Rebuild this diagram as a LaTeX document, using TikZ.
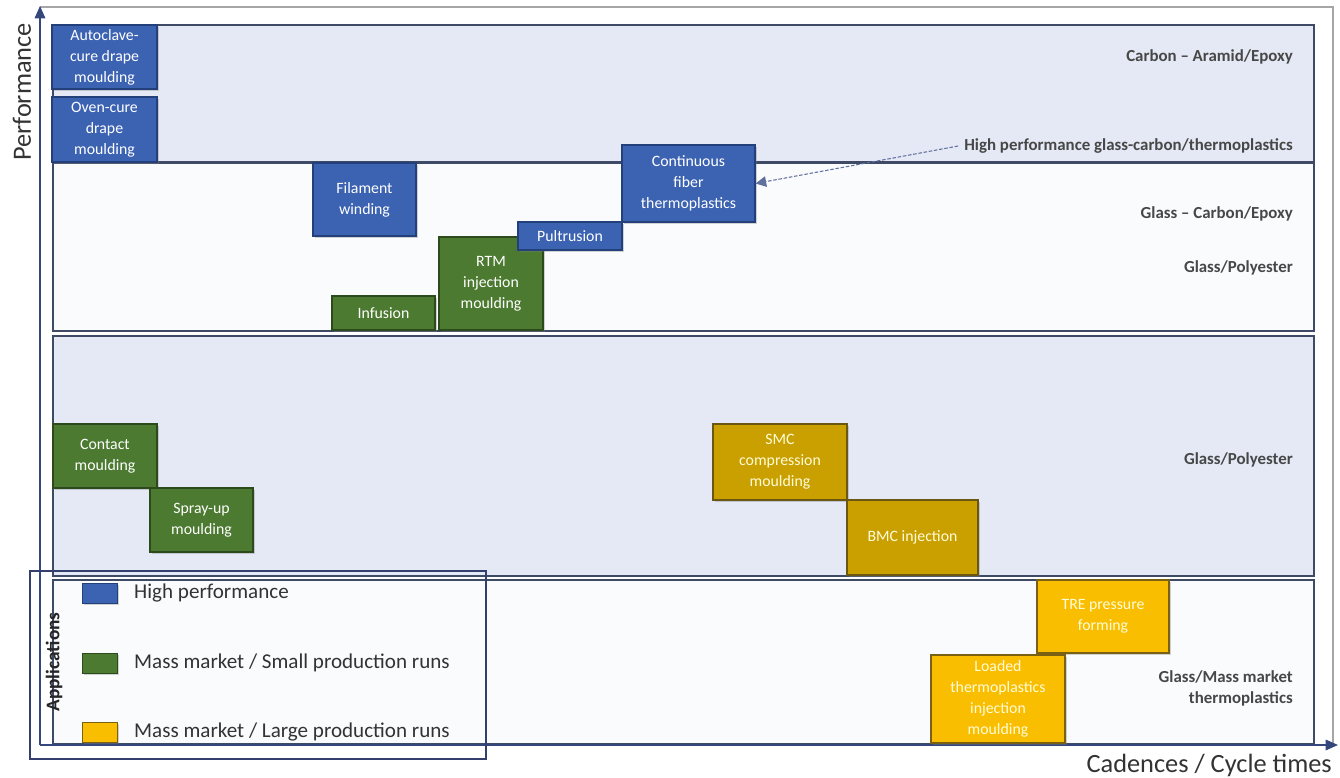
\documentclass[tikz,border=0pt]{standalone}
\usepackage{fontspec}
\setmainfont{Carlito}
\usetikzlibrary{fit,shadows,arrows.meta}
\definecolor{bandfill}{HTML}{E4E9F5}
\definecolor{bandwhite}{HTML}{FAFBFD}
\definecolor{bandline}{HTML}{3E4A66}
\definecolor{hpblue}{HTML}{3C62B2}
\definecolor{hpblueD}{HTML}{24407A}
\definecolor{mgreen}{HTML}{4B7A30}
\definecolor{mgreenD}{HTML}{2D4A1D}
\definecolor{dgold}{HTML}{C9A000}
\definecolor{dgoldD}{HTML}{6A5712}
\definecolor{lgold}{HTML}{FABE00}
\definecolor{lgoldD}{HTML}{7A6012}
\definecolor{axisblue}{HTML}{4A66B0}
\definecolor{legline}{HTML}{33406E}
\tikzset{
  bandA/.style={draw=bandline, line width=0.9pt, fill=bandfill, inner sep=0pt},
  bandB/.style={draw=bandline, line width=0.9pt, fill=bandwhite, inner sep=0pt},
  procbox/.style={inner sep=0pt, line width=0.7pt,
    drop shadow={shadow xshift=1.2pt, shadow yshift=-1.2pt, opacity=0.35}},
  hpbox/.style={procbox, fill=hpblue, draw=hpblueD},
  smbox/.style={procbox, fill=mgreen, draw=mgreenD},
  dgbox/.style={procbox, fill=dgold, draw=dgoldD},
  lgbox/.style={procbox, fill=lgold, draw=lgoldD},
  boxtext/.style={inner sep=0pt, align=center, font=\fontsize{9}{12}\selectfont, text=white},
  goldtext/.style={boxtext, text=white!85!yellow},
  matlabel/.style={anchor=east, align=right, font=\bfseries\fontsize{9.6}{12}\selectfont, text=black!72},
  legtext/.style={anchor=west, font=\fontsize{12}{14}\selectfont, text=black!80},
  legsq/.style={inner sep=0pt, line width=0.5pt,
    drop shadow={shadow xshift=1pt, shadow yshift=-1pt, opacity=0.35}},
}
\begin{document}
\begin{tikzpicture}[x=0.02cm,y=-0.02cm]
\useasboundingbox[fill=white] (0,0) rectangle (1340,778);
% frame
\draw[black!35, line width=0.6pt] (40,7) -- (1333,7) -- (1333,745);
% bands
\node[bandA, fit={(53,25)(1314,162)}] (band1) {};
\node[bandB, fit={(53,162)(1314,331)}] (band2) {};
\node[bandA, fit={(53,336)(1314,576)}] (band3) {};
\node[bandB, fit={(53,580)(1314,744)}] (band4) {};
\draw[bandline, line width=1.3pt] (band1.south west) -- (band1.south east);
% axes
\coordinate (orig) at (40,745);
\coordinate (ytop) at (40,6);
\coordinate (xend) at (1338,745);
\draw[axisblue!70!black, line width=0.8pt, -{Triangle[length=7pt,width=6pt]}] (orig) -- (ytop);
\draw[axisblue!70!black, line width=0.8pt, -{Triangle[length=7pt,width=6pt]}] (orig) -- (xend);
\node[rotate=90, font=\fontsize{15}{18}\selectfont, text=black!80] (ylab) at (22,92) {Performance};
\node[anchor=east, font=\fontsize{15}{18}\selectfont, text=black!80] (xlab) at (1338,765) {Cadences / Cycle times};
% material labels
\node[matlabel] (m1) at (1299,57) {Carbon – Aramid/Epoxy};
\node[matlabel] (m2) at (1299,146) {High performance glass-carbon/thermoplastics};
\node[matlabel] (m3) at (1299,214) {Glass – Carbon/Epoxy};
\node[matlabel] (m4) at (1299,268) {Glass/Polyester};
\node[matlabel] (m5) at (1299,460) {Glass/Polyester};
\node[matlabel] (m6) at (1299,688) {Glass/Mass market\\thermoplastics};
% process boxes
\node[hpbox, fit={(52,25)(157,89)}] (auto) {};
\node[boxtext] (autoT) at (auto.center) {Autoclave-\\cure drape\\moulding};
\node[hpbox, fit={(52,97)(157,162)}] (oven) {};
\node[boxtext] (ovenT) at (oven.center) {Oven-cure\\drape\\moulding};
\node[hpbox, fit={(313,163)(416,236)}] (fil) {};
\node[boxtext] (filT) at (fil.center) {Filament\\winding};
\node[smbox, fit={(439,237)(543,330)}] (rtm) {};
\node[boxtext] (rtmT) at (rtm.center) {RTM\\injection\\moulding};
\node[hpbox, fit={(518,222)(622,250)}] (pul) {};
\node[boxtext] (pulT) at (pul.center) {Pultrusion};
\node[hpbox, fit={(622,145)(755,222)}] (cont) {};
\node[boxtext] (contT) at (cont.center) {Continuous\\fiber\\thermoplastics};
\node[smbox, fit={(332,296)(435,330)}] (inf) {};
\node[boxtext] (infT) at (inf.center) {Infusion};
\node[smbox, fit={(53,424)(157,488)}] (contact) {};
\node[boxtext] (contactT) at (contact.center) {Contact\\moulding};
\node[smbox, fit={(150,488)(253,552)}] (spray) {};
\node[boxtext] (sprayT) at (spray.center) {Spray-up\\moulding};
\node[dgbox, fit={(713,424)(847,500)}] (smc) {};
\node[goldtext] (smcT) at (smc.center) {SMC\\compression\\moulding};
\node[dgbox, fit={(847,500)(978,575)}] (bmc) {};
\node[goldtext] (bmcT) at (bmc.center) {BMC injection};
\node[lgbox, fit={(1037,580)(1169,653)}] (tre) {};
\node[goldtext] (treT) at (tre.center) {TRE pressure\\forming};
\node[lgbox, fit={(931,655)(1065,743)}] (loaded) {};
\node[goldtext] (loadedT) at (loaded.center) {Loaded\\thermoplastics\\injection\\moulding};
% connector
\draw[axisblue!60!gray, line width=0.6pt, dashed, dash pattern=on 2pt off 1pt,
  -{Triangle[length=6pt,width=6pt]}] (m2.west) -- (cont.east);
% legend
\node[draw=legline, line width=0.9pt, fit={(30,571)(486,759)}, inner sep=0pt] (legend) {};
\node[rotate=90, font=\bfseries\fontsize{11}{13}\selectfont, text=black!85] (applab) at (54,662) {Applications};
\node[legsq, fill=hpblue, draw=hpblueD, fit={(82,583)(117,603)}] (sq1) {};
\node[legsq, fill=mgreen, draw=mgreenD, fit={(82,653)(117,673)}] (sq2) {};
\node[legsq, fill=lgold, draw=lgoldD, fit={(82,722)(117,742)}] (sq3) {};
\node[legtext] (l1) at (128,593) {High performance};
\node[legtext] (l2) at (128,663) {Mass market / Small production runs};
\node[legtext] (l3) at (128,732) {Mass market / Large production runs};
\end{tikzpicture}
\end{document}
